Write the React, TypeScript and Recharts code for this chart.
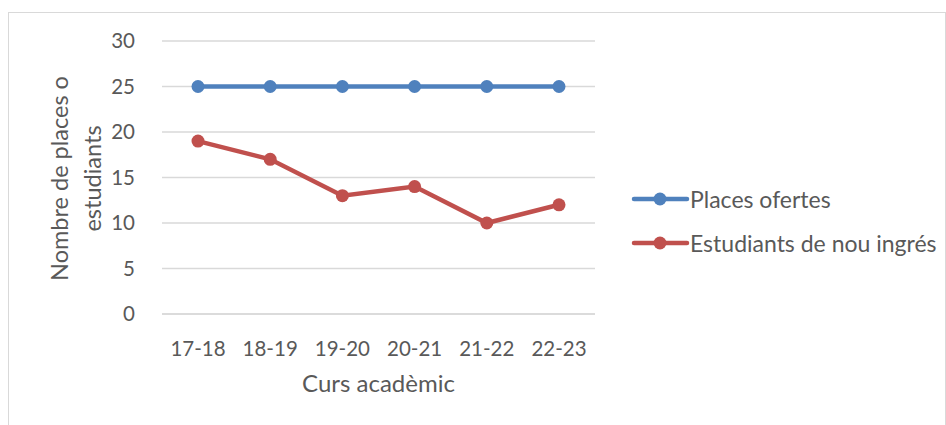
import { LineChart, Line, XAxis, YAxis, CartesianGrid } from "recharts";

const cursos = ["17-18", "18-19", "19-20", "20-21", "21-22", "22-23"];
const placesOfertes = [25, 25, 25, 25, 25, 25];
const estudiantsNouIngres = [19, 17, 13, 14, 10, 12];
const yTicks = [0, 5, 10, 15, 20, 25, 30];

const data = cursos.map((c, i) => ({
  curs: c,
  places: placesOfertes[i],
  estudiants: estudiantsNouIngres[i],
}));

const FONT = "Lato, 'Open Sans', sans-serif";
const TEXT = "#595959";

const legendItems = [
  { label: "Places ofertes", color: "#4F81BD" },
  { label: "Estudiants de nou ingrés", color: "#C0504D" },
];

function LegendBox() {
  return (
    <div style={{ fontFamily: FONT, fontSize: 23, color: TEXT }}>
      {legendItems.map((it) => (
        <div
          key={it.label}
          style={{ display: "flex", alignItems: "center", height: 44 }}
        >
          <svg width={59} height={14}>
            <line x1={3} y1={7} x2={56} y2={7} stroke={it.color} strokeWidth={4.5} strokeLinecap="round" />
            <circle cx={29} cy={7} r={6.5} fill={it.color} />
          </svg>
          <span>{it.label}</span>
        </div>
      ))}
    </div>
  );
}

function YLabel(props: any) {
  const vb = props.viewBox || {};
  const cy = vb.y + vb.height / 2 + 1;
  return (
    <g fontFamily={FONT} fontSize={23.5} fill={TEXT} textAnchor="middle">
      <text x={68} y={cy} transform={`rotate(-90, 68, ${cy})`}>
        Nombre de places o
      </text>
      <text x={101} y={cy} transform={`rotate(-90, 101, ${cy})`}>
        estudiants
      </text>
    </g>
  );
}

function XLabel(props: any) {
  const vb = props.viewBox || {};
  return (
    <text
      x={vb.x + vb.width / 2}
      y={392}
      textAnchor="middle"
      fontFamily={FONT}
      fontSize={24}
      fill={TEXT}
    >
      Curs acadèmic
    </text>
  );
}

export default function App() {
  return (
    <div style={{ position: "absolute", left: 0, top: 0, width: 946, height: 425, background: "#fff" }}>
      <div
        style={{
          position: "absolute",
          left: 8,
          top: 12,
          width: 936,
          height: 420,
          border: "1px solid #d9d9d9",
        }}
      />
      <div style={{ position: "absolute", left: 0, top: 0 }}>
        <LineChart
          width={946}
          height={425}
          data={data}
          margin={{ top: 41, right: 351, bottom: 0, left: 0 }}
        >
          <CartesianGrid vertical={false} stroke="#d9d9d9" strokeWidth={1.5} />
          <XAxis
            dataKey="curs"
            height={111}
            padding={{ left: 36, right: 36 }}
            axisLine={{ stroke: "#d9d9d9", strokeWidth: 1.5 }}
            tickLine={false}
            tickMargin={21}
            interval={0}
            tick={{ fontFamily: FONT, fontSize: 20.5, fill: TEXT }}
            label={<XLabel />}
          />
          <YAxis
            width={162}
            domain={[0, 30]}
            ticks={yTicks}
            axisLine={false}
            tickLine={false}
            tickMargin={21}
            tick={{ fontFamily: FONT, fontSize: 20.5, fill: TEXT }}
            label={<YLabel />}
          />
          <Line
            dataKey="places"
            name="Places ofertes"
            stroke="#4F81BD"
            strokeWidth={4.5}
            dot={{ r: 6.5, fill: "#4F81BD", stroke: "#4F81BD", strokeWidth: 0 }}
            isAnimationActive={false}
          />
          <Line
            dataKey="estudiants"
            name="Estudiants de nou ingrés"
            stroke="#C0504D"
            strokeWidth={4.5}
            dot={{ r: 6.5, fill: "#C0504D", stroke: "#C0504D", strokeWidth: 0 }}
            isAnimationActive={false}
          />
        </LineChart>
      </div>
      <div style={{ position: "absolute", left: 631, top: 177 }}>
        <LegendBox />
      </div>
    </div>
  );
}
